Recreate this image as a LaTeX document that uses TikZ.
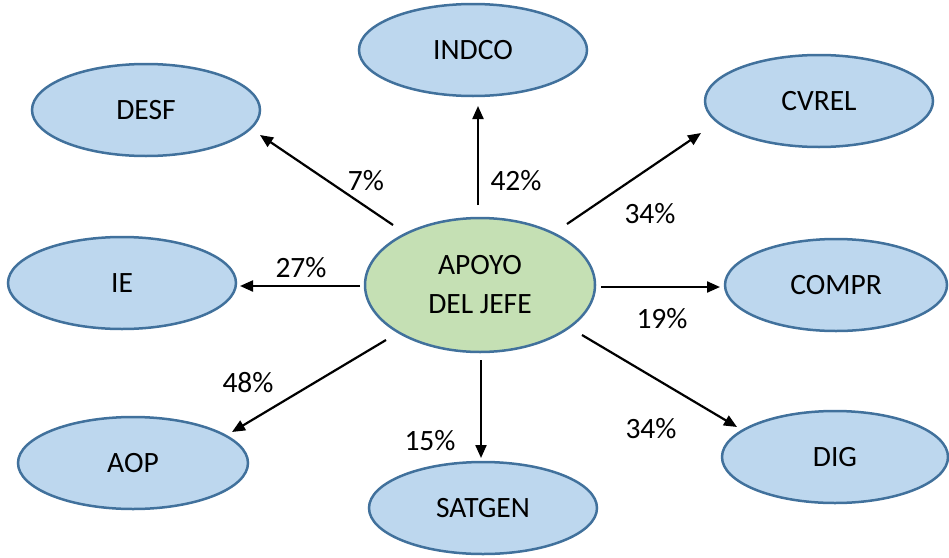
\documentclass[tikz,border=0pt]{standalone}
\usepackage{fontspec}
\setmainfont{Carlito}
\usetikzlibrary{arrows.meta,shapes.geometric}
\definecolor{bfill}{HTML}{BDD7EE}
\definecolor{gfill}{HTML}{C5E0B4}
\definecolor{edge}{HTML}{41719C}
\begin{document}
\begin{tikzpicture}[x=1pt,y=-1pt,
  every node/.style={font=\fontsize{29.5}{39}\selectfont},
  bubble/.style={ellipse, draw=edge, line width=2.5pt, fill=bfill, minimum width=228pt, minimum height=92pt, inner sep=0pt},
  hub/.style={ellipse, draw=edge, line width=2.5pt, fill=gfill, minimum width=230pt, minimum height=134pt, inner sep=0pt, align=center},
  link/.style={line width=2.2pt, -{Triangle[length=13pt,width=11pt]}},
  pct/.style={inner sep=0pt}]
\useasboundingbox (0,0) rectangle (949,557);
\node[hub] (c) at (480,285) {APOYO\\DEL JEFE};
\node[bubble] (desf) at (146,110) {DESF};
\node[bubble] (indco) at (473,50) {INDCO};
\node[bubble] (cvrel) at (819,101) {CVREL};
\node[bubble] (ie) at (122,283) {IE};
\node[bubble,minimum width=222pt] (compr) at (836,285) {COMPR};
\node[bubble,minimum width=230pt] (aop) at (133,463) {AOP};
\node[bubble] (satgen) at (483,508) {SATGEN};
\node[bubble,minimum width=226pt] (dig) at (835,457) {DIG};
% arrow end points
\coordinate (s1) at (393,225); \coordinate (e1) at (260,135);
\coordinate (s2) at (478,205); \coordinate (e2) at (478,106);
\coordinate (s3) at (567,224); \coordinate (e3) at (701,133);
\coordinate (s4) at (360,286); \coordinate (e4) at (240,286);
\coordinate (s5) at (601,287); \coordinate (e5) at (720,287);
\coordinate (s6) at (386,340); \coordinate (e6) at (232,432);
\coordinate (s7) at (481,360); \coordinate (e7) at (481,458);
\coordinate (s8) at (582,335); \coordinate (e8) at (737,427);
\draw[link] (s1) -- (e1);
\draw[link] (s2) -- (e2);
\draw[link] (s3) -- (e3);
\draw[link] (s4) -- (e4);
\draw[link] (s5) -- (e5);
\draw[link] (s6) -- (e6);
\draw[link] (s7) -- (e7);
\draw[link] (s8) -- (e8);
\node[pct] (p1) at (366,181) {7\%};
\node[pct] (p2) at (516,181) {42\%};
\node[pct] (p3) at (650,214) {34\%};
\node[pct] (p4) at (301,268) {27\%};
\node[pct] (p5) at (662,319) {19\%};
\node[pct] (p6) at (248,383) {48\%};
\node[pct] (p7) at (430,441) {15\%};
\node[pct] (p8) at (651,429) {34\%};
\end{tikzpicture}
\end{document}
